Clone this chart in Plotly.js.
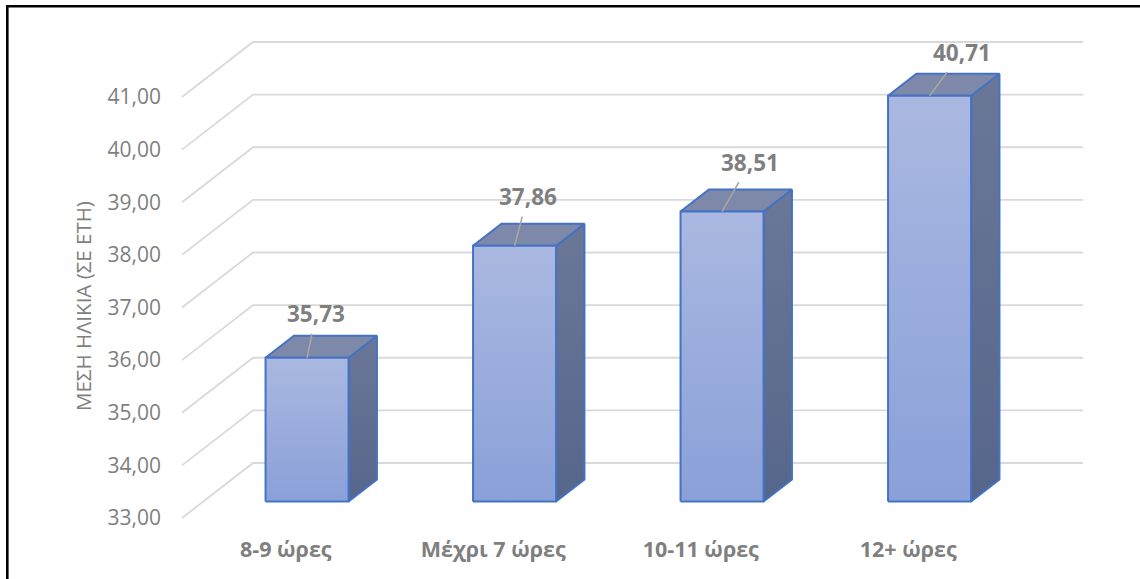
<!DOCTYPE html>
<html>
<head>
<meta charset="utf-8">
<script src="https://cdn.plot.ly/plotly-3.0.1.min.js"></script>
<style>
  html, body { margin: 0; padding: 0; background: #ffffff; }
  #chart { width: 1140px; height: 579px; }
</style>
</head>
<body>
<div id="chart"></div>
<script>
// Mean age by hours of sleep
const categories = ['8-9 ώρες', 'Μέχρι 7 ώρες', '10-11 ώρες', '12+ ώρες'];
const meanAge = [35.73, 37.86, 38.51, 40.71];
const yTicks = [33, 34, 35, 36, 37, 38, 39, 40, 41];
const baseValue = 33;
const yTitle = 'ΜΕΣΗ ΗΛΙΚΙΑ (ΣΕ ΕΤΗ)';

// Pixel offsets of each data label relative to the bar's top front edge
const labelOffsets = [[9, -44], [13, -49], [28, -49], [32, -43]];

// ---- pseudo-3D geometry (in axis units) ----
const W = 1140, H = 579;
const M = { l: 170, r: 45, t: 34, b: 50 };
const plotW = W - M.l - M.r, plotH = H - M.t - M.b;
const PX_X = 207.5;          // pixels per category
const PX_Y = 52.625;         // pixels per year
const FRONT_LEFT_PX = 182;   // left end of the floor's front edge
const FRONT_BASE_PX = 518;   // pixel row of the base value at the front
const DX = 71 / PX_X;        // full depth, horizontal component
const DY = 55 / PX_Y;        // full depth, vertical component
const DEPTH0 = 0.3, DEPTH1 = 0.7; // bar occupies the middle of the floor depth
const HALF = 0.2;            // half bar width in category units

const xLeft = -0.5 - (FRONT_LEFT_PX - M.l) / PX_X;
const xRange = [xLeft, xLeft + plotW / PX_X];
const yLow = baseValue - (H - M.b - FRONT_BASE_PX) / PX_Y;
const yRange = [yLow, yLow + plotH / PX_Y];
const nCat = categories.length;

const fmt = v => v.toFixed(2).replace('.', ',');
const FONT = 'Open Sans, sans-serif';

const traces = [];

// gridlines: diagonal on the side wall, horizontal on the back wall
const gx = [], gy = [];
yTicks.forEach(v => {
  gx.push(-0.5, -0.5 + DX, nCat - 0.5 + DX, null);
  gy.push(v, v + DY, v + DY, null);
});
traces.push({
  type: 'scatter', mode: 'lines', x: gx, y: gy,
  line: { color: '#d9d9d9', width: 1.8 },
  hoverinfo: 'skip', showlegend: false
});

const edge = { color: '#4472c4', width: 2 };
const bdx = (DEPTH1 - DEPTH0) * DX, bdy = (DEPTH1 - DEPTH0) * DY;

meanAge.forEach((v, i) => {
  const x0 = i - HALF + DEPTH0 * DX, x1 = i + HALF + DEPTH0 * DX;
  const yb = baseValue + DEPTH0 * DY, yt = v + DEPTH0 * DY;

  // right side face
  traces.push({
    type: 'scatter', mode: 'lines', fill: 'toself',
    x: [x1, x1 + bdx, x1 + bdx, x1, x1],
    y: [yb, yb + bdy, yt + bdy, yt, yb],
    fillgradient: { type: 'vertical', colorscale: [[0, '#56668b'], [1, '#6b7797']] },
    line: edge, hoverinfo: 'skip', showlegend: false
  });
  // top face
  traces.push({
    type: 'scatter', mode: 'lines', fill: 'toself',
    x: [x0, x1, x1 + bdx, x0 + bdx, x0],
    y: [yt, yt, yt + bdy, yt + bdy, yt],
    fillcolor: '#7e89a9',
    line: edge, hoverinfo: 'skip', showlegend: false
  });
  // front face
  traces.push({
    type: 'scatter', mode: 'lines', fill: 'toself',
    x: [x0, x1, x1, x0, x0],
    y: [yb, yb, yt, yt, yb],
    fillgradient: { type: 'vertical', colorscale: [[0, '#8aa0d8'], [1, '#aab8e1']] },
    line: edge, hoverinfo: 'skip', showlegend: false,
    name: categories[i]
  });
});

const annotations = meanAge.map((v, i) => ({
  x: i + DEPTH0 * DX, y: v + DEPTH0 * DY, xref: 'x', yref: 'y',
  text: '<b>' + fmt(v) + '</b>',
  showarrow: true, arrowhead: 0, arrowwidth: 1.6, arrowcolor: '#a6a6a6',
  ax: labelOffsets[i][0], ay: labelOffsets[i][1], standoff: 0, startstandoff: 3,
  font: { family: FONT, size: 22.5, color: '#7f7f7f' }
}));

// rotated value-axis title
annotations.push({
  xref: 'paper', yref: 'paper',
  x: (83 - M.l) / plotW, y: (H - M.b - 306) / plotH,
  xanchor: 'center', yanchor: 'middle',
  text: yTitle, textangle: -90, showarrow: false,
  font: { family: FONT, size: 20.5, color: '#7f7f7f' }
});

// chart frame (top and left edges)
const px2x = p => (p - M.l) / plotW;
const px2y = p => (H - M.b - p) / plotH;
const shapes = [
  { type: 'line', xref: 'paper', yref: 'paper', x0: px2x(7.3), x1: px2x(7.3), y0: px2y(5), y1: px2y(H + 5),
    line: { color: '#000000', width: 2.6 } },
  { type: 'line', xref: 'paper', yref: 'paper', x0: px2x(6), x1: px2x(W + 5), y0: px2y(6.3), y1: px2y(6.3),
    line: { color: '#000000', width: 2.6 } }
];

const layout = {
  width: W, height: H,
  margin: M,
  paper_bgcolor: '#ffffff', plot_bgcolor: '#ffffff',
  showlegend: false,
  separators: ',.',
  font: { family: FONT, color: '#7f7f7f' },
  xaxis: {
    range: xRange, showgrid: false, zeroline: false, showline: false,
    tickvals: categories.map((c, i) => i),
    ticktext: categories.map(c => '<b>' + c + '</b>'),
    ticks: '', ticklabelstandoff: 5,
    tickfont: { family: FONT, size: 21.5, color: '#7f7f7f' },
    fixedrange: true
  },
  yaxis: {
    range: yRange, showgrid: false, zeroline: false, showline: false,
    tickvals: yTicks, ticktext: yTicks.map(fmt),
    ticks: '', ticklabelstandoff: 8,
    tickfont: { family: FONT, size: 21, color: '#7f7f7f' },
    fixedrange: true
  },
  annotations: annotations,
  shapes: shapes
};

Plotly.newPlot('chart', traces, layout, { displayModeBar: false, staticPlot: true });
</script>
</body>
</html>
